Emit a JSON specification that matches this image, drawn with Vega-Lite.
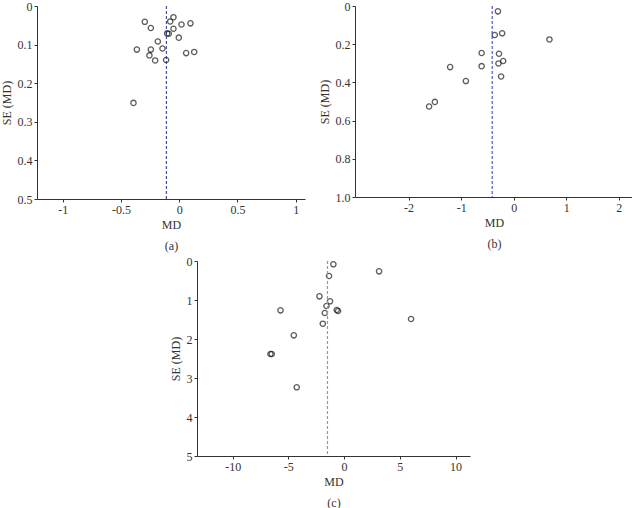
{
  "$schema": "https://vega.github.io/schema/vega-lite/v6.json",
  "padding": {"left": 0, "top": 0, "right": 0, "bottom": 0},
  "config": {
    "view": {"stroke": null},
    "font": "Liberation Serif",
    "axis": {
      "grid": false,
      "domainColor": "#333333",
      "tickColor": "#333333",
      "labelColor": "#333333",
      "titleColor": "#333333",
      "labelFont": "Liberation Serif",
      "titleFont": "Liberation Serif",
      "labelFontSize": 12,
      "titleFontSize": 12,
      "titleFontWeight": "normal",
      "tickSize": 3,
      "labelPadding": 2
    }
  },
  "datasets": {
    "a": [
      {"md": -0.295, "se": 0.041}, {"md": -0.243, "se": 0.057}, {"md": -0.049, "se": 0.029},
      {"md": -0.077, "se": 0.040}, {"md": 0.02, "se": 0.048}, {"md": 0.097, "se": 0.045},
      {"md": -0.049, "se": 0.059}, {"md": -0.103, "se": 0.071}, {"md": -0.089, "se": 0.072},
      {"md": -0.003, "se": 0.082}, {"md": -0.183, "se": 0.092}, {"md": -0.363, "se": 0.113},
      {"md": -0.243, "se": 0.113}, {"md": -0.143, "se": 0.110}, {"md": -0.255, "se": 0.128},
      {"md": -0.206, "se": 0.141}, {"md": -0.112, "se": 0.140}, {"md": 0.06, "se": 0.122},
      {"md": 0.129, "se": 0.119}, {"md": -0.392, "se": 0.251}
    ],
    "b": [
      {"md": -0.30, "se": 0.028}, {"md": -0.36, "se": 0.152}, {"md": -0.22, "se": 0.143},
      {"md": 0.68, "se": 0.175}, {"md": -0.61, "se": 0.246}, {"md": -0.28, "se": 0.250},
      {"md": -0.20, "se": 0.288}, {"md": -0.29, "se": 0.301}, {"md": -0.61, "se": 0.315},
      {"md": -1.21, "se": 0.320}, {"md": -0.24, "se": 0.369}, {"md": -0.91, "se": 0.393},
      {"md": -1.50, "se": 0.502}, {"md": -1.61, "se": 0.526}
    ],
    "c": [
      {"md": -0.96, "se": 0.085}, {"md": 3.14, "se": 0.265}, {"md": -1.35, "se": 0.385},
      {"md": -2.21, "se": 0.906}, {"md": -1.26, "se": 1.034}, {"md": -5.71, "se": 1.265},
      {"md": -1.58, "se": 1.154}, {"md": -1.73, "se": 1.333}, {"md": -0.66, "se": 1.256},
      {"md": -0.54, "se": 1.282}, {"md": 6.01, "se": 1.487}, {"md": -1.91, "se": 1.607},
      {"md": -4.51, "se": 1.906}, {"md": -6.61, "se": 2.385}, {"md": -6.49, "se": 2.385},
      {"md": -4.25, "se": 3.239}
    ],
    "empty": []
  },
  "vconcat": [
    {
      "hconcat": [
        {
          "width": 268,
          "height": 193,
          "layer": [
            {
              "data": {"name": "a"},
              "mark": {"type": "point", "shape": "circle", "filled": false, "color": "#1a1a1a", "size": 28, "strokeWidth": 1.3},
              "encoding": {
                "x": {"field": "md", "type": "quantitative", "scale": {"domain": [-1.22, 1.08], "nice": false, "zero": false},
                  "axis": {"values": [-1, -0.5, 0, 0.5, 1], "labelExpr": "toString(datum.value)", "title": ["MD", "(a)"], "titleLineHeight": 21, "titlePadding": 4}},
                "y": {"field": "se", "type": "quantitative", "scale": {"domain": [0, 0.5], "reverse": true, "nice": false, "zero": false},
                  "axis": {"values": [0, 0.1, 0.2, 0.3, 0.4, 0.5], "labelExpr": "toString(datum.value)", "title": "SE (MD)", "titlePadding": 4}}
              }
            },
            {
              "data": {"values": [{}]},
              "mark": {"type": "rule", "strokeDash": [3, 2], "color": "#1f2d8f", "strokeWidth": 1},
              "encoding": {"x": {"datum": -0.11}}
            }
          ]
        },
        {
          "width": 278,
          "height": 191,
          "layer": [
            {
              "data": {"name": "b"},
              "mark": {"type": "point", "shape": "circle", "filled": false, "color": "#1a1a1a", "size": 28, "strokeWidth": 1.3},
              "encoding": {
                "x": {"field": "md", "type": "quantitative", "scale": {"domain": [-3.02, 2.27], "nice": false, "zero": false},
                  "axis": {"values": [-2, -1, 0, 1, 2], "labelExpr": "toString(datum.value)", "title": ["MD", "(b)"], "titleLineHeight": 21, "titlePadding": 4}},
                "y": {"field": "se", "type": "quantitative", "scale": {"domain": [0, 1], "reverse": true, "nice": false, "zero": false},
                  "axis": {"values": [0, 0.2, 0.4, 0.6, 0.8, 1], "labelExpr": "datum.value == 1 ? '1.0' : toString(datum.value)", "title": "SE (MD)", "titlePadding": 4}}
              }
            },
            {
              "data": {"values": [{}]},
              "mark": {"type": "rule", "strokeDash": [3, 2], "color": "#2b35c8", "strokeWidth": 1},
              "encoding": {"x": {"datum": -0.41}}
            }
          ]
        }
      ],
      "spacing": 13
    },
    {
      "hconcat": [
        {
          "width": 132,
          "height": 10,
          "data": {"name": "empty"},
          "mark": {"type": "point", "opacity": 0},
          "encoding": {}
        },
        {
          "width": 273,
          "height": 195,
          "layer": [
            {
              "data": {"name": "c"},
              "mark": {"type": "point", "shape": "circle", "filled": false, "color": "#1a1a1a", "size": 28, "strokeWidth": 1.3},
              "encoding": {
                "x": {"field": "md", "type": "quantitative", "scale": {"domain": [-13.2, 11.3], "nice": false, "zero": false},
                  "axis": {"values": [-10, -5, 0, 5, 10], "labelExpr": "toString(datum.value)", "title": ["MD", "(c)"], "titleLineHeight": 21, "titlePadding": 4}},
                "y": {"field": "se", "type": "quantitative", "scale": {"domain": [0, 5], "reverse": true, "nice": false, "zero": false},
                  "axis": {"values": [0, 1, 2, 3, 4, 5], "labelExpr": "toString(datum.value)", "title": "SE (MD)", "titlePadding": 4}}
              }
            },
            {
              "data": {"values": [{}]},
              "mark": {"type": "rule", "strokeDash": [3, 2], "color": "#8c8fd6", "strokeWidth": 1.2},
              "encoding": {"x": {"datum": -1.49}}
            }
          ]
        }
      ],
      "spacing": 0
    }
  ],
  "spacing": 4
}
